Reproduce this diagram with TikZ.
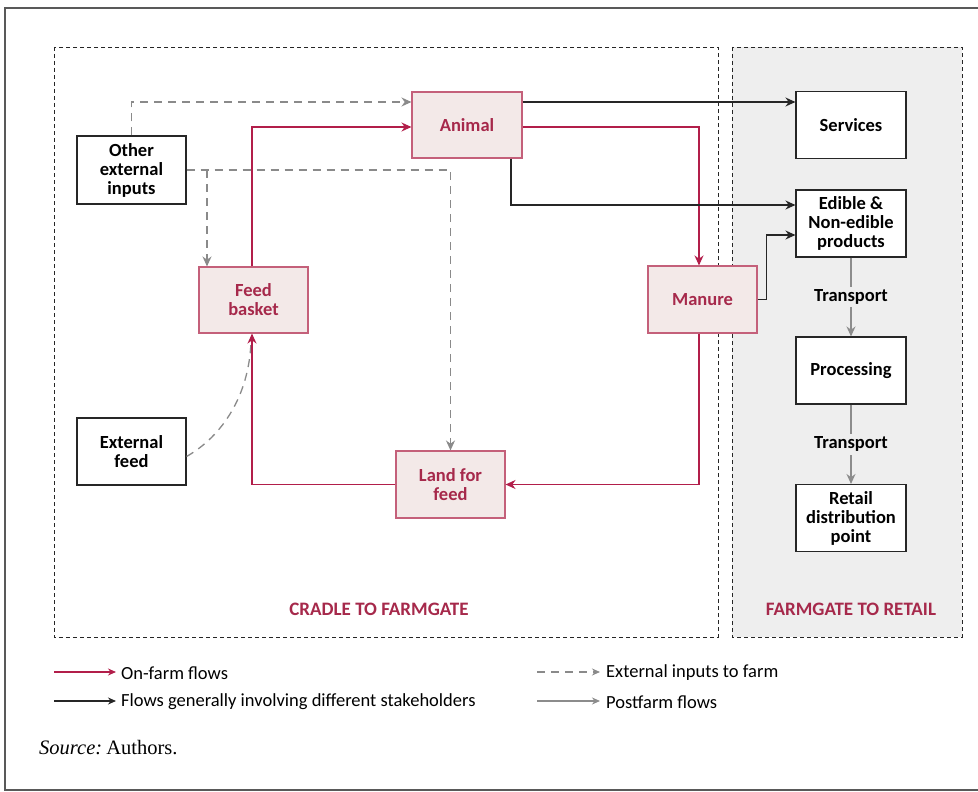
\documentclass[tikz,border=0pt]{standalone}
\usepackage{fontspec}
\setmainfont{Carlito}
\newfontfamily\srcfont{Liberation Serif}
\usetikzlibrary{arrows.meta}
\definecolor{crim}{HTML}{A6294B}
\definecolor{crimline}{HTML}{B21E4A}
\definecolor{crimbox}{HTML}{C4607A}
\definecolor{pinkfill}{HTML}{F3E9E8}
\definecolor{graybg}{HTML}{EEEEEE}
\definecolor{extgray}{HTML}{8A8A8A}
\definecolor{postgray}{HTML}{8C8C8C}
\tikzset{
  onfarm/.style={draw=crimbox, fill=pinkfill, line width=1.1pt, minimum width=109pt, minimum height=66pt, align=center, font=\fontsize{18.5}{19}\selectfont\bfseries, text=crim, inner sep=2pt},
  plainbox/.style={draw=black!85, fill=white, line width=1.1pt, minimum width=109pt, minimum height=67pt, align=center, font=\fontsize{18.5}{19}\selectfont\bfseries, text=black, inner sep=2pt},
  redflow/.style={draw=crimline, line width=1.3pt, -{Stealth[length=10pt,width=9pt]}},
  blkflow/.style={draw=black!85, line width=1.3pt, -{Stealth[length=10pt,width=9pt]}},
  extflow/.style={draw=extgray, line width=1.3pt, dash pattern=on 8pt off 6pt, -{Stealth[length=10pt,width=9pt]}},
  extline/.style={draw=extgray, line width=1.3pt, dash pattern=on 8pt off 6pt},
  postflow/.style={draw=postgray, line width=1.3pt, -{Stealth[length=10pt,width=9pt]}},
  zone/.style={draw=black!85, line width=0.9pt, dash pattern=on 4pt off 3pt},
  zonelabel/.style={font=\fontsize{19}{22}\selectfont\bfseries, text=crim},
  legtext/.style={anchor=west, font=\fontsize{18.5}{21}\selectfont, inner sep=0pt},
  translabel/.style={font=\fontsize{18.5}{21}\selectfont\bfseries, fill=graybg, inner sep=3pt}
}
\begin{document}
\begin{tikzpicture}[x=1pt, y=-1pt]
\useasboundingbox (0,0) rectangle (978,792);
\fill[white] (0,0) rectangle (978,792);
% outer frame
\draw[line width=2pt, color=black!65] (5,8) rectangle (995,790);
% zones
\draw[zone, fill=white] (54,47) rectangle (718,637);
\draw[zone, fill=graybg] (732,47) rectangle (962,637);
\node[zonelabel] (zl1) at (379,609) {CRADLE TO FARMGATE};
\node[zonelabel] (zl2) at (851,609) {FARMGATE TO RETAIL};

% nodes
\node[onfarm, minimum width=110pt] (ani) at (467,125) {Animal};
\node[plainbox, minimum height=68pt] (oth) at (131.5,170) {Other\\external\\inputs};
\node[onfarm] (fb) at (253.5,300) {Feed\\basket};
\node[plainbox] (ef) at (131.5,451.5) {External\\feed};
\node[onfarm, minimum height=67pt] (land) at (450.5,484.5) {Land for\\feed};
\node[onfarm, minimum height=67pt] (man) at (702.5,299.5) {Manure};
\node[plainbox, minimum width=110pt] (svc) at (851,125) {Services};
\node[plainbox, minimum width=110pt] (edi) at (851,223.5) {Edible \&\\Non-edible\\products};
\node[plainbox, minimum width=110pt] (proc) at (851,370.5) {Processing};
\node[plainbox, minimum width=110pt] (ret) at (851,518) {Retail\\distribution\\point};

% external inputs (dashed)
\draw[extflow] (oth.north) |- ([yshift=23pt]ani.west);
\draw[extflow] (oth.east) -| (land.north);
\coordinate (br) at (207,170);
\draw[extflow] (br) -- (br |- fb.north);
\draw[extline] ([yshift=-5pt]ef.east) .. controls +(35,-20) and +(-2,55) .. ([xshift=-2.5pt,yshift=-8pt]fb.south);

% on-farm flows (red)
\draw[redflow] ([xshift=-1.5pt]fb.north) |- ([yshift=-2pt]ani.west);
\draw[redflow] ([yshift=-2pt]ani.east) -| ([xshift=-3.5pt]man.north);
\draw[redflow] ([xshift=-3.5pt]man.south) |- (land.east);
\draw[redflow] (land.west) -| ([xshift=-1.5pt]fb.south);

% stakeholder flows (black)
\draw[blkflow] ([yshift=23pt]ani.east) -- ([yshift=23pt]svc.west);
\draw[blkflow] ([xshift=44pt]ani.south) |- ([yshift=18.5pt]edi.west);
\draw[blkflow] (man.east) -- ++(9,0) |- ([yshift=-11.5pt]edi.west);

% postfarm flows
\draw[postflow] (edi.south) -- node[translabel] (t1) {Transport} (proc.north);
\draw[postflow] (proc.south) -- node[translabel] (t2) {Transport} (ret.north);

% legend
\coordinate (l1a) at (54,672); \coordinate (l1b) at (116,672);
\coordinate (l2a) at (54,701); \coordinate (l2b) at (116,701);
\coordinate (l3a) at (537,672); \coordinate (l3b) at (600,672);
\coordinate (l4a) at (537,701); \coordinate (l4b) at (600,701);
\draw[redflow, line width=1.2pt, -{Stealth[length=8pt,width=7pt]}] (l1a) -- (l1b);
\draw[blkflow, line width=1.2pt, -{Stealth[length=8pt,width=7pt]}] (l2a) -- (l2b);
\draw[extflow, line width=1.2pt, dash pattern=on 8pt off 6pt, -{Stealth[length=8pt,width=7pt]}] (l3a) -- (l3b);
\draw[postflow, line width=1.2pt, -{Stealth[length=8pt,width=7pt]}] (l4a) -- (l4b);
\node[legtext] (lt1) at (121,673) {On-farm flows};
\node[legtext] (lt2) at (121,702) {Flows generally involving different stakeholders};
\node[legtext] (lt3) at (606,673) {External inputs to farm};
\node[legtext] (lt4) at (606,702) {Postfarm flows};
\node[anchor=west, inner sep=0pt, font=\srcfont\fontsize{20.5}{23}\selectfont] (src) at (39,748) {{\itshape Source:}\hspace{0.2em}Authors.};
\end{tikzpicture}
\end{document}
